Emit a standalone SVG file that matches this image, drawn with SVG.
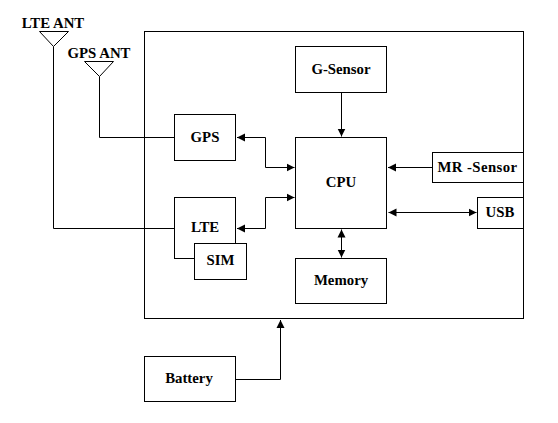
<svg xmlns="http://www.w3.org/2000/svg" width="558" height="423" viewBox="0 0 558 423">
<style>
.b{fill:#fff;stroke:#000;stroke-width:1}
.o{fill:none;stroke:#000;stroke-width:1}
text{font-family:"Liberation Serif","Times New Roman",serif;font-weight:bold;font-size:14.8px;fill:#000;text-anchor:middle}
</style>
<defs>
<marker id="a" markerUnits="userSpaceOnUse" markerWidth="9" markerHeight="10" refX="8" refY="5" orient="auto-start-reverse"><path d="M0,1 L8,5 L0,9 Z" fill="#000"/></marker>
</defs>
<rect width="558" height="423" fill="#fff"/>
<g id="main-board"><rect class="b" x="144.5" y="31.5" width="379" height="287"/></g>
<g id="connectors">
<path class="o" d="M53.5,46.5 V228.5 H174.5"/>
<path class="o" d="M99.5,76.5 V137.5 H174.5"/>
<path class="o" d="M237,137.5 H265.5 V167.5 H294.5" marker-start="url(#a)" marker-end="url(#a)"/>
<path class="o" d="M237,228.5 H265.5 V197.5 H294.5" marker-start="url(#a)" marker-end="url(#a)"/>
<path class="o" d="M341.5,92.5 V136.5" marker-end="url(#a)"/>
<path class="o" d="M432.5,167.5 H388" marker-end="url(#a)"/>
<path class="o" d="M388.5,212.5 H476.5" marker-start="url(#a)" marker-end="url(#a)"/>
<path class="o" d="M341.5,229.5 V257.5" marker-start="url(#a)" marker-end="url(#a)"/>
<path class="o" d="M235.5,379.5 H280.5 V320" marker-end="url(#a)"/>
</g>
<g id="lte-ant"><path class="b" d="M39.5,31.5 H68.5 L53.5,46.5 Z"/><text x="53" y="28">LTE ANT</text></g>
<g id="gps-ant"><path class="b" d="M84.5,61.5 H113.5 L99.5,76.5 Z"/><text x="99" y="58">GPS ANT</text></g>
<g id="gps"><rect class="b" x="174.5" y="114.5" width="61" height="46"/><text x="205" y="142">GPS</text></g>
<g id="lte"><rect class="b" x="174.5" y="197.5" width="61" height="61"/><text x="205" y="232">LTE</text></g>
<g id="sim"><rect class="b" x="194.5" y="243.5" width="52" height="36"/><text x="220.5" y="265">SIM</text></g>
<g id="cpu"><rect class="b" x="295.5" y="137.5" width="91" height="91"/><text x="341" y="187">CPU</text></g>
<g id="g-sensor"><rect class="b" x="295.5" y="46.5" width="91" height="46"/><text x="341" y="74">G-Sensor</text></g>
<g id="memory"><rect class="b" x="295.5" y="258.5" width="91" height="45"/><text x="341" y="285">Memory</text></g>
<g id="mr-sensor"><rect class="b" x="432.5" y="152.5" width="91" height="30"/><text x="477.5" y="172" letter-spacing="0.4">MR -Sensor</text></g>
<g id="usb"><rect class="b" x="477.5" y="197.5" width="46" height="31"/><text x="500" y="217">USB</text></g>
<g id="battery"><rect class="b" x="144.5" y="356.5" width="91" height="45"/><text x="189" y="383">Battery</text></g>
</svg>
